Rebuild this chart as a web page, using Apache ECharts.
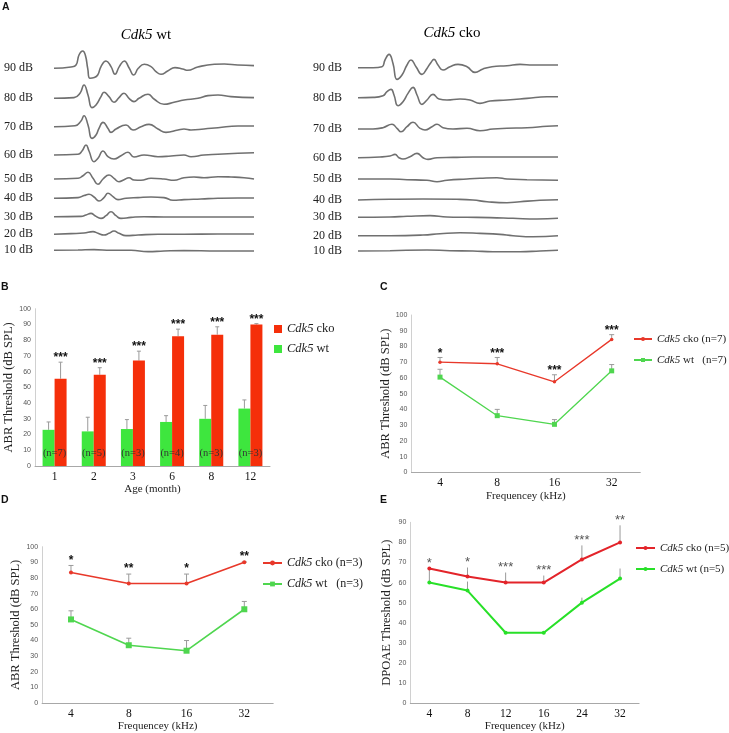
<!DOCTYPE html>
<html><head><meta charset="utf-8">
<script src="https://cdn.jsdelivr.net/npm/echarts@6/dist/echarts.min.js"></script>
<style>html,body{margin:0;padding:0;background:#fff}#c{width:729px;height:733px}</style>
</head><body><div id="c"></div>
<script>
// ===== Panel A: ABR waveforms, [time, amplitude] =====
const dbLevels = ['90 dB','80 dB','70 dB','60 dB','50 dB','40 dB','30 dB','20 dB','10 dB'];
const wt90 = [[0,0],[17,1.3],[22,3.3],[25,13.3],[28.7,17.3],[31.3,13.3],[33.7,0],[36,-10],[40.3,-9.3],[43.7,-6.7],[47,1.7],[52,7.3],[57,1.7],[61,-6],[65.3,1.7],[70.3,7.3],[75.3,0],[79.7,-6.7],[84.3,0],[90.3,4],[97,1.7],[102,-3.3],[107,-6],[113.7,-2.7],[121,0.7],[128.7,-0.7],[133.7,-2],[143.7,1.3],[160.3,4],[170.3,4.3],[183.7,3.3],[200,2.7]];
const wt80 = [[0,0],[20,0.7],[26,5],[30,13.3],[34,3.3],[38,-9.3],[42,-6.7],[47,1.7],[50,6],[55,1.7],[60,-4],[65,0.7],[70,5],[75,0],[80,-3.3],[85,0],[94,4],[100,-0.7],[110,-6],[120,-4],[130,-1.7],[144,0],[154,2.7],[164,3.3],[177,1.7],[200,0.7]];
const wt70 = [[0,0],[21,1],[27,5.7],[30,11],[34,1.7],[38,-11.7],[42,-8.3],[45,-1.7],[49,4.3],[54,-1.7],[57,-5.7],[62,-2.3],[72,1.7],[79,-3.3],[87,0],[95,2.3],[104,-2.3],[112,-5.7],[124,-3.3],[130,-2.3],[137,-3.3],[150,-2.3],[164,-1],[184,0.7],[200,0.7]];
const wt60 = [[0,0],[24,0.7],[28,4],[32,10],[35,4],[40,-6.7],[44,-3.3],[49,4],[54,-1.7],[60,-4],[67,-0.7],[74,2.7],[80,-2],[90,0],[104,-1.7],[117,-1],[130,0],[137,-1.7],[150,0],[164,0.7],[184,1.7],[200,2.3]];
const wt50 = [[0,0],[24,0.7],[29,3.3],[34,6.7],[39,0.7],[44,-5.3],[49,0],[55,4],[60,0.7],[65,-2.7],[70,-0.7],[75,1.3],[80,-1],[87,-1.3],[97,0.7],[110,0],[120,-1.3],[130,1.3],[140,2],[150,1.3],[164,2.3],[177,2],[190,1.3],[200,0]];
const wt40 = [[0,0],[24,0.7],[30,2.7],[35,4],[40,1.3],[45,-2.7],[50,0.7],[54,5],[59,1.7],[64,-1.3],[72,0],[84,0.7],[97,1.3],[110,0.7],[119,-2],[130,-1.3],[147,-0.7],[164,0],[184,0.3],[200,0.3]];
const wt30 = [[0,0],[27,0.3],[32,1.7],[37,3.3],[41,1],[47,-1.7],[52,1],[57,5],[62,1],[67,-1.7],[77,-0.7],[90,0],[110,-0.3],[130,-0.3],[164,-0.3],[200,-0.3]];
const wt20 = [[0,0],[17,0.7],[30,1.3],[39,2.7],[44,1],[50,-0.7],[55,1],[60,3.3],[65,1],[72,-1.3],[84,-0.7],[104,0],[130,0],[164,0.3],[200,0.3]];
const wt10 = [[0,0],[24,0.3],[40,0.7],[57,0],[77,0],[94,-1.3],[110,-0.7],[130,-0.3],[164,-0.7],[200,-0.7]];
const cko90 = [[0,0],[15,0],[24,1],[27,7.7],[31,13.3],[35,4.3],[39,-11.7],[44,-7.3],[49,2.7],[53,7.7],[58,1],[64,-6.7],[69,-0.7],[73,5.3],[76,8.3],[80,2.7],[85,-2.3],[92,1],[100,3.3],[109,1],[117,-4.7],[125,-1.3],[134,1],[149,2],[162,3.3],[175,2.7],[189,2.7],[200,2.7]];
const cko80 = [[0,0],[15,0.3],[25,2],[29,6],[33,8.3],[36,2.7],[40,-8],[45,-4],[50,4.3],[55,10.3],[59,2.7],[64,-6.7],[69,-2.3],[75,3.3],[81,-1.3],[89,-2.3],[102,-1.3],[112,-2.3],[122,-5.7],[132,-3.3],[149,-2.3],[169,-0.7],[189,1],[200,1]];
const cko70 = [[0,0],[15,0],[25,1.3],[34,4.7],[39,0.7],[43,-2.7],[49,2.3],[55,6.7],[62,0.7],[67,-1],[74,2.3],[79,4.7],[85,1.3],[95,0],[109,0.7],[122,-1.7],[135,0],[149,0.7],[169,1.3],[189,2.7],[200,3.3]];
const cko60 = [[0,0],[22,0.7],[32,1.7],[37,3.3],[41,0],[45,-1.3],[52,1],[59,4.3],[65,0],[70,-1.7],[79,0],[95,0.3],[115,0.7],[149,0.7],[169,0.7],[200,0.7]];
const cko50 = [[0,0],[32,0],[49,-0.7],[69,-1.3],[79,-2.7],[89,-1.3],[109,0],[122,0.7],[139,1.3],[149,0],[169,-0.7],[200,-1.3]];
const cko40 = [[0,0],[32,0.7],[65,1],[99,0.7],[115,0],[129,-1.7],[149,-2.7],[162,-1.7],[182,-0.3],[200,0.3]];
const cko30 = [[0,0],[32,0.3],[49,1],[72,1.7],[89,0.3],[109,0],[132,-0.3],[155,-1],[179,-1.7],[200,-1]];
const cko20 = [[0,0],[32,0],[65,0.7],[82,2],[102,3],[122,2.3],[142,1.3],[155,0],[175,-1],[200,0]];
const cko10 = [[0,0],[32,0.3],[69,1],[92,0.3],[115,0],[135,-0.7],[162,-0.7],[182,0],[200,0.7]];

// ===== Panel B: ABR threshold by age =====
const ages = ['1','2','3','6','8','12'];
const bWt = [23, 22, 23.5, 28, 30, 36.5];
const bWtErr = [5, 9, 6, 4, 8.5, 5.5];
const bCko = [55.5, 58, 67, 82.5, 83.5, 90];
const bCkoErr = [10.5, 4.5, 6, 4.5, 5, 0.5];
const bStars = ['***','***','***','***','***','***'];
const bN = ['(n=7)','(n=5)','(n=3)','(n=4)','(n=3)','(n=3)'];

// ===== Panel C: ABR threshold by frequency (n=7) =====
const freqC = ['4','8','16','32'];
const cCko = [70, 69, 57.5, 84.5];
const cCkoErr = [3, 4, 4.5, 3];
const cWt = [60.5, 36, 30.5, 64.5];
const cWtErr = [5, 4, 3, 4];
const cStars = ['*','***','***','***'];

// ===== Panel D: ABR threshold by frequency (n=3) =====
const freqD = ['4','8','16','32'];
const dCko = [83.5, 76.5, 76.5, 90];
const dCkoErr = [4.5, 6, 6, 0.3];
const dWt = [53.5, 37, 33.5, 60];
const dWtErr = [5.5, 4.5, 6.5, 5];
const dStars = ['*','**','*','**'];

// ===== Panel E: DPOAE threshold =====
const freqE = ['4','8','12','16','24','32'];
const eCko = [67, 63, 60, 60, 71.5, 80];
const eCkoErr = [0, 4.5, 5, 3.5, 7, 8.5];
const eWt = [60, 56, 35, 35, 50, 62];
const eWtErr = [7, 4.5, 0, 0, 2.5, 5];
const eStars = ['*','*','***','***','***','**'];

// ---------- layout ----------
const SERIF = 'Liberation Serif', SANS = 'Liberation Sans';
const A_TOP = 50, A_H = 212;
const wtRowY = [68.3, 98.3, 126.7, 155, 179, 198.3, 216.7, 234.3, 250.3];
const ckoRowY = [67.7, 97.7, 129, 157.7, 179, 200, 217.3, 235.7, 251];
const RED = '#f52f0a', GREEN = '#3ee63e', ERR = '#9a9a9a';

const chart = echarts.init(document.getElementById('c'), null, {renderer:'canvas'});

const grids = [
  {left:54, top:A_TOP, width:200, height:A_H},
  {left:358, top:A_TOP, width:200, height:A_H},
  {left:35, top:308.7, width:235, height:157.3},
  {left:411.4, top:315, width:228.9, height:157.3},
  {left:42.1, top:546.7, width:231.1, height:157.3},
  {left:410.3, top:522.3, width:228.8, height:182}
];

const xAxes = [
  {gridIndex:0, type:'value', min:0, max:200, show:false},
  {gridIndex:1, type:'value', min:0, max:200, show:false}
];
const yAxes = [
  {gridIndex:0, type:'value', min:0, max:A_H, show:false},
  {gridIndex:1, type:'value', min:0, max:A_H, show:false}
];
function catAxis(grid, cats, name, nameGap){
  return {gridIndex:grid, type:'category', data:cats,
    axisLine:{lineStyle:{color:'#a8a8a8', width:1}}, axisTick:{show:false},
    axisLabel:{fontFamily:SERIF, fontSize:11.5, color:'#111', margin:5},
    name:name, nameLocation:'middle', nameGap:nameGap,
    nameTextStyle:{fontFamily:SERIF, fontSize:11, color:'#222'}};
}
function valAxis(grid, max, name, nameGap){
  return {gridIndex:grid, type:'value', min:0, max:max, interval:10,
    axisLine:{show:true, lineStyle:{color:'#d0d0d0', width:1}}, axisTick:{show:false},
    splitLine:{show:false},
    axisLabel:{fontFamily:SANS, fontSize:7, color:'#555', margin:4},
    name:name, nameLocation:'middle', nameGap:nameGap,
    nameTextStyle:{fontFamily:SERIF, fontSize:12.5, color:'#222'}};
}
xAxes.push(catAxis(2, ages, 'Age (month)', 17));
xAxes.push(catAxis(3, freqC, 'Frequencey (kHz)', 17));
xAxes.push(catAxis(4, freqD, 'Frequencey (kHz)', 17));
xAxes.push(catAxis(5, freqE, 'Frequencey (kHz)', 17));
yAxes.push(valAxis(2, 100, 'ABR Threshold (dB SPL)', 15));
yAxes.push(valAxis(3, 100, 'ABR Threshold (dB SPL)', 17));
yAxes.push(valAxis(4, 100, 'ABR Threshold (dB SPL)', 19));
yAxes.push(valAxis(5, 90, 'DPOAE Threshold (dB SPL)', 17));

const series = [];
// Panel A traces
function addTraces(traces, rowY, g, dist){
  traces.forEach((tr, k) => {
    const off = A_TOP + A_H - rowY[k];
    series.push({type:'line', xAxisIndex:g, yAxisIndex:g, silent:true, symbol:'none',
      smooth:0.5,
      data: tr.map(p => [p[0], off + p[1]]),
      lineStyle:{color:'#707070', width:1.6}});
  });
  series.push({type:'custom', xAxisIndex:g, yAxisIndex:g, silent:true, clip:false,
    data: rowY.map(y => [0, A_TOP + A_H - y]),
    renderItem:(params, api) => {
      const p = api.coord([api.value(0), api.value(1)]);
      return {type:'text', x:p[0]-dist, y:p[1], style:{text:dbLevels[params.dataIndex],
        textAlign:'right', textVerticalAlign:'middle', font:'12px "'+SERIF+'"', fill:'#222'}};
    }});
}
addTraces([wt90,wt80,wt70,wt60,wt50,wt40,wt30,wt20,wt10], wtRowY, 0, 21);
addTraces([cko90,cko80,cko70,cko60,cko50,cko40,cko30,cko20,cko10], ckoRowY, 1, 16);

function errSeries(g, vals, errs, offset, cap, color){
  return {type:'custom', xAxisIndex:g, yAxisIndex:g, silent:true, z:1, clip:false,
    data: vals.map((v,i) => [i, v, v + errs[i]]),
    renderItem:(params, api) => {
      const a = api.coord([api.value(0), api.value(1)]);
      const b = api.coord([api.value(0), api.value(2)]);
      const x = a[0] + offset;
      const ch = [{type:'line', shape:{x1:x, y1:a[1], x2:x, y2:b[1]}, style:{stroke:color, lineWidth:1}}];
      if (cap > 0) ch.push({type:'line', shape:{x1:x-cap, y1:b[1], x2:x+cap, y2:b[1]}, style:{stroke:color, lineWidth:1}});
      return {type:'group', children:ch};
    }};
}
function starSeries(g, tops, stars, offset, lift, font, color){
  return {type:'custom', xAxisIndex:g, yAxisIndex:g, silent:true, z:6, clip:false,
    data: tops.map((v,i) => [i, v]),
    renderItem:(params, api) => {
      const p = api.coord([api.value(0), api.value(1)]);
      return {type:'text', x:p[0]+offset, y:p[1]-lift, style:{text:stars[params.dataIndex],
        textAlign:'center', textVerticalAlign:'middle', font:font, fill:color}};
    }};
}
const topOf = (a, e, b, f) => a.map((v,i) => Math.max(v + e[i], b[i] + f[i]));

// Panel B
const BW = 12;
series.push({name:'Bwt', type:'bar', xAxisIndex:2, yAxisIndex:2, data:bWt, barWidth:BW, barGap:'0%', itemStyle:{color:GREEN}, silent:true});
series.push({name:'Bcko', type:'bar', xAxisIndex:2, yAxisIndex:2, data:bCko, barWidth:BW, barGap:'0%', itemStyle:{color:RED}, silent:true});
series.push(errSeries(2, bWt, bWtErr, -BW/2, 2, ERR));
series.push(errSeries(2, bCko, bCkoErr, BW/2, 2, ERR));
series.push(starSeries(2, bCko.map((v,i)=>v+bCkoErr[i]), bStars, BW/2, 4, 'bold 12px "'+SANS+'"', '#111'));
series.push({type:'custom', xAxisIndex:2, yAxisIndex:2, silent:true, z:6,
  data: bN.map((t,i) => [i, 0]),
  renderItem:(params, api) => {
    const p = api.coord([api.value(0), api.value(1)]);
    return {type:'text', x:p[0], y:p[1]-13, style:{text:bN[params.dataIndex], textAlign:'center',
      textVerticalAlign:'middle', font:'10.5px "'+SERIF+'"', fill:'#333'}};
  }});

// line panels
function linePanel(g, prefix, cko, ckoErr, wt, wtErr, stars, opt){
  series.push(errSeries(g, cko, ckoErr, 0, opt.cap, ERR));
  series.push(errSeries(g, wt, wtErr, 0, opt.cap, ERR));
  series.push({name:prefix+'cko', type:'line', xAxisIndex:g, yAxisIndex:g, data:cko, z:3, silent:true,
    symbol:'circle', symbolSize:opt.rs, lineStyle:{color:opt.red, width:opt.lw}, itemStyle:{color:opt.red}});
  series.push({name:prefix+'wt', type:'line', xAxisIndex:g, yAxisIndex:g, data:wt, z:3, silent:true,
    symbol:opt.gsym, symbolSize:opt.gs, lineStyle:{color:opt.green, width:opt.lw}, itemStyle:{color:opt.green}});
  series.push(starSeries(g, topOf(cko, ckoErr, wt, wtErr), stars, 0, opt.lift, opt.font, opt.sc));
}
linePanel(3, 'C', cCko, cCkoErr, cWt, cWtErr, cStars,
  {cap:2.5, rs:3.5, gs:5, gsym:'rect', lw:1.3, red:'#e8382a', green:'#4fd64f', lift:4, font:'bold 12px "'+SANS+'"', sc:'#111'});
linePanel(4, 'D', dCko, dCkoErr, dWt, dWtErr, dStars,
  {cap:2.5, rs:4, gs:6, gsym:'rect', lw:1.6, red:'#e8382a', green:'#4fd64f', lift:5, font:'bold 12px "'+SANS+'"', sc:'#111'});
linePanel(5, 'E', eCko, eCkoErr, eWt, eWtErr, eStars,
  {cap:0, rs:4, gs:4, gsym:'circle', lw:2, red:'#e3242a', green:'#28e028', lift:5, font:'13px "'+SANS+'"', sc:'#555'});

const legendText = {
  Bcko:'{i|Cdk5} cko', Bwt:'{i|Cdk5} wt',
  Ccko:'{i|Cdk5} cko (n=7)', Cwt:'{i|Cdk5} wt   (n=7)',
  Dcko:'{i|Cdk5} cko (n=3)', Dwt:'{i|Cdk5} wt   (n=3)',
  Ecko:'{i|Cdk5} cko (n=5)', Ewt:'{i|Cdk5} wt (n=5)'
};
function legend(p, left, top, iw, ih, gap, fs, icon){
  const l = {data:[p+'cko', p+'wt'], left:left, top:top, orient:'vertical', itemWidth:iw, itemHeight:ih,
    itemGap:gap, selectedMode:false, padding:0,
    formatter:n => legendText[n],
    textStyle:{fontFamily:SERIF, fontSize:fs, color:'#222', lineHeight:14,
      rich:{i:{fontStyle:'italic', fontFamily:SERIF, fontSize:fs, color:'#222'}}}};
  if (icon) l.icon = icon;
  return l;
}

const panelLetter = (t, x, y) => ({type:'text', x:x, y:y, style:{text:t, font:'bold 10.5px "'+SANS+'"', fill:'#111', textAlign:'left', textVerticalAlign:'top'}});

chart.setOption({
  animation:false,
  backgroundColor:'#ffffff',
  grid:grids, xAxis:xAxes, yAxis:yAxes, series:series,
  legend:[
    legend('B', 274, 322, 8, 8, 6, 12.5, 'rect'),
    legend('C', 633, 332, 18, 5, 7, 11),
    legend('D', 262, 556, 19, 6, 7, 12),
    legend('E', 635, 541, 19, 5, 7, 11)
  ],
  graphic:[
    panelLetter('A', 2, 2), panelLetter('B', 1, 282), panelLetter('C', 380, 282),
    panelLetter('D', 1, 495), panelLetter('E', 380, 495),
    {type:'text', x:146, y:35, style:{text:'{i|Cdk5}{n| wt}', align:'center', verticalAlign:'middle',
      textAlign:'center', textVerticalAlign:'middle',
      rich:{i:{fontStyle:'italic', fontFamily:SERIF, fontSize:15, color:'#111'}, n:{fontFamily:SERIF, fontSize:15, color:'#111'}}}},
    {type:'text', x:452, y:33, style:{text:'{i|Cdk5}{n| cko}', align:'center', verticalAlign:'middle',
      textAlign:'center', textVerticalAlign:'middle',
      rich:{i:{fontStyle:'italic', fontFamily:SERIF, fontSize:15, color:'#111'}, n:{fontFamily:SERIF, fontSize:15, color:'#111'}}}}
  ]
});
</script></body></html>
